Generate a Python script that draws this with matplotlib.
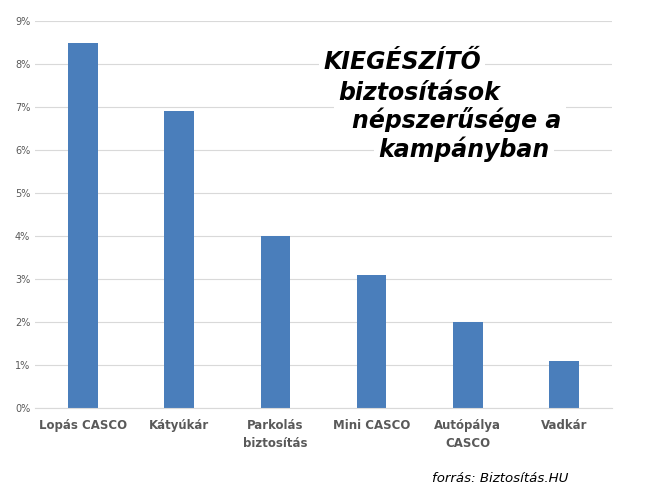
import matplotlib.pyplot as plt

# Adatok
categories = ['Lopás CASCO', 'Kátyúkár', 'Parkolás\nbiztosítás', 'Mini CASCO', 'Autópálya\nCASCO', 'Vadkár']
values = [8.5, 6.9, 4.0, 3.1, 2.0, 1.1]
yticks = list(range(0, 10))
title_lines = ['KIEGÉSZÍTŐ', 'biztosítások', 'népszerűsége a', 'kampányban']

W, H = 651, 504
fig = plt.figure(figsize=(W / 100, H / 100), dpi=100)
ax = fig.add_axes([35 / W, 1 - 408 / H, 577 / W, 387 / H])

x = range(len(categories))
ax.bar(x, values, width=0.31, color='#4a7ebb', zorder=2)

ax.set_xlim(-0.5, len(categories) - 0.5)
ax.set_ylim(0, 9)
ax.set_yticks(yticks)
ax.set_yticklabels([f'{t}%' for t in yticks], color='#595959', fontsize=7)
ax.set_xticks(list(x))
ax.set_xticklabels(categories, color='#595959', fontsize=8.5, fontweight='bold', linespacing=1.5)
ax.tick_params(axis='both', length=0)
ax.tick_params(axis='x', pad=8)
ax.grid(axis='y', color='#d9d9d9', linewidth=0.8, zorder=0)
for s in ['top', 'right', 'left']:
    ax.spines[s].set_visible(False)
ax.spines['bottom'].set_color('#d9d9d9')

# Cím soronként, eltolva
positions = [(323, 69), (338, 100), (352, 128), (378, 157)]
for txt, (px, py) in zip(title_lines, positions):
    fig.text(px / W, 1 - py / H, txt, fontsize=17, fontweight='bold', fontstyle='italic',
             color='black', ha='left', va='baseline',
             bbox=dict(facecolor='white', edgecolor='none', pad=3))

fig.text(432 / W, 1 - 482 / H, 'forrás: Biztosítás.HU', fontsize=9.6, fontstyle='italic',
         color='black', ha='left', va='baseline')

fig.savefig('out.png', dpi=100)
